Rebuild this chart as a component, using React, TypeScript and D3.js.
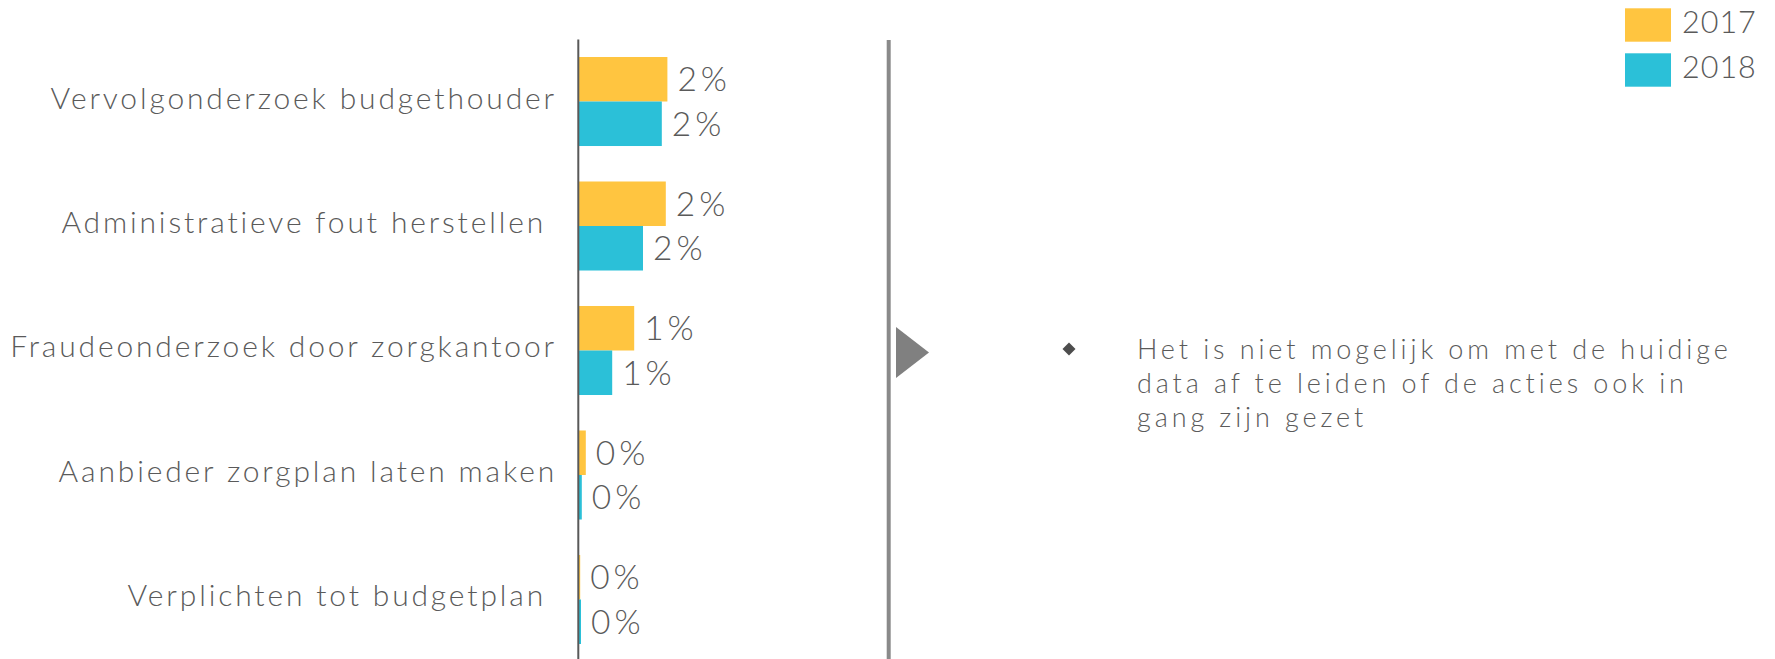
import React from "react";
import * as d3 from "d3";

const categories = [
  "Vervolgonderzoek budgethouder",
  "Administratieve fout herstellen ",
  "Fraudeonderzoek door zorgkantoor",
  "Aanbieder zorgplan laten maken",
  "Verplichten tot budgetplan ",
];
const seriesNames = ["2017", "2018"];
const values2017 = [0.0221, 0.0217, 0.0138, 0.0017, 0.0003];
const values2018 = [0.0207, 0.016, 0.0083, 0.0007, 0.0005];
const colors = ["#FFC540", "#2BC0D8"];
const noteLines = [
  "Het is niet mogelijk om met de huidige",
  "data af te leiden of de acties ook in",
  "gang zijn gezet",
];

const W = 1775;
const H = 659;
const FONT = "Lato, 'Open Sans', sans-serif";
const TEXT = "#5a5a5a";

export default function App() {
  const axisX = 578.3;
  const x = d3.scaleLinear().domain([0, 0.1]).range([axisX + 0.7, axisX + 0.7 + 400]);
  const y = d3.scaleBand<string>().domain(categories).range([57, 644]).paddingInner(0.285).paddingOuter(0);
  const ySub = d3.scaleBand<string>().domain(seriesNames).range([0, y.bandwidth()]).padding(0);
  const fmt = d3.format(".0%");
  const series = [values2017, values2018];

  return (
    <svg width={W} height={H} style={{ position: "absolute", left: 0, top: 0, background: "#fff" }}>
      {categories.map((c, i) => (
        <g key={c} transform={`translate(0,${y(c)})`}>
          {seriesNames.map((s, j) => {
            const v = series[j][i];
            const yy = ySub(s)!;
            const w = x(v) - x(0);
            return (
              <g key={s}>
                <rect x={x(0)} y={yy} width={w} height={ySub.bandwidth()} fill={colors[j]} />
                <text
                  x={x(v) + 10}
                  y={yy + ySub.bandwidth() / 2 + 11.8}
                  fontFamily={FONT}
                  fontWeight={300}
                  fontSize={33.5}
                  fill={TEXT}
                  letterSpacing={4}
                >
                  {fmt(v)}
                </text>
              </g>
            );
          })}
          <text
            x={557}
            y={y.bandwidth() / 2 + 7}
            textAnchor="end"
            fontFamily={FONT}
            fontWeight={300}
            fontSize={30}
            fill={TEXT}
            letterSpacing={2.85}
            style={{ whiteSpace: "pre" }}
          >
            {c}
          </text>
        </g>
      ))}
      <line x1={axisX} x2={axisX} y1={39.6} y2={H} stroke="#595959" strokeWidth={2} />

      <line x1={888.7} x2={888.7} y1={40} y2={H} stroke="#8a8a8a" strokeWidth={4} />
      <polygon points="896,327 929,352.5 896,378" fill="#808080" />

      <polygon points="1069,342.5 1075.5,349 1069,355.5 1062.5,349" fill="#4d4d4d" />
      {noteLines.map((t, i) => (
        <text
          key={i}
          x={1137}
          y={359 + i * 34}
          fontFamily={FONT}
          fontWeight={300}
          fontSize={27}
          fill={TEXT}
          letterSpacing={3.9}
        >
          {t}
        </text>
      ))}

      {seriesNames.map((s, j) => (
        <g key={s} transform={`translate(1625,${8.3 + j * 45})`}>
          <rect x={0} y={0} width={46} height={33.4} fill={colors[j]} />
          <text x={57} y={25} fontFamily={FONT} fontWeight={300} fontSize={30.5} fill={TEXT} letterSpacing={1}>
            {s}
          </text>
        </g>
      ))}
    </svg>
  );
}
